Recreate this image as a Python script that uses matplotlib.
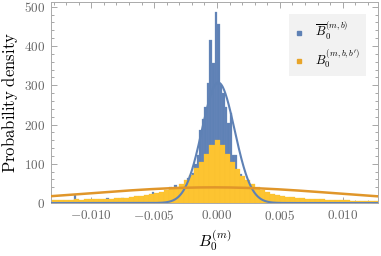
import numpy as np
import matplotlib
matplotlib.use("Agg")
import matplotlib.pyplot as plt
from matplotlib.ticker import MultipleLocator, FuncFormatter
from matplotlib.lines import Line2D

plt.rcParams["mathtext.fontset"] = "cm"
plt.rcParams["font.family"] = ["DejaVu Serif"]

# blue histogram: left edges of bins (width 0.0002) and densities
blue_width = 0.0002
blue_edges = [-0.0114, -0.0088, -0.0076, -0.0052, -0.0038, -0.0034, -0.0030,
              -0.0028, -0.0026, -0.0024, -0.0022, -0.0020, -0.0018, -0.0016,
              -0.0014, -0.0012, -0.0010, -0.0008, -0.0006, -0.0004, -0.0002,
              0.0000, 0.0002, 0.0004, 0.0006, 0.0008, 0.0010, 0.0012, 0.0014,
              0.0016, 0.0018, 0.0020, 0.0022, 0.0024, 0.0026, 0.0028, 0.0030,
              0.0032]
blue_heights = [20, 14, 14, 28, 40, 46, 25,
                33, 45, 64, 70, 77, 100, 122,
                186, 215, 245, 306, 416, 357, 487,
                456, 300, 280, 245, 204, 230, 122, 122,
                71, 75, 54, 40, 30, 20, 12, 36,
                6]

# orange histogram: bin centres -0.0132 .. 0.0128 (width 0.0004)
orange_width = 0.0004
orange_start = -0.0132
orange_heights = [7, 8, 7, 8, 8, 9, 8, 9, 10, 9, 10, 11, 11, 12, 12, 14, 15,
                  17, 18, 20, 23, 26, 29, 32, 36, 41, 49, 58, 72, 88, 105, 125,
                  147, 161, 148, 126, 104, 86, 70, 58, 49, 40, 34, 28, 24, 21,
                  19, 16, 15, 13, 12, 11, 10, 9, 9, 8, 8, 7, 7, 7, 6, 6, 6, 5,
                  5, 5]
orange_centers = orange_start + orange_width * np.arange(len(orange_heights))

# fitted normal curves
blue_mu, blue_sigma = 0.0001, 0.0013
orange_mu, orange_sigma = -0.0003, 0.0100

blue = "#5E81B5"
orange_fill = "#FDC431"
orange_line = "#E0962A"


def normal_pdf(x, mu, sigma):
    return np.exp(-0.5 * ((x - mu) / sigma) ** 2) / (sigma * np.sqrt(2 * np.pi))


fig = plt.figure(figsize=(3.81, 2.56), dpi=100)
ax = fig.add_axes([0.134, 0.207, 0.858, 0.785])

ax.bar(blue_edges, blue_heights, width=blue_width, align="edge",
       color=blue, edgecolor="#6F8EBE", linewidth=0.2, zorder=1)
ax.bar(orange_centers, orange_heights, width=orange_width, align="center",
       color=orange_fill, edgecolor="#F6BE30", linewidth=0.2, zorder=2)

xs = np.linspace(-0.0135, 0.0135, 800)
ax.plot(xs, normal_pdf(xs, blue_mu, blue_sigma), color=blue, lw=1.5, zorder=3)
ax.plot(xs, normal_pdf(xs, orange_mu, orange_sigma), color=orange_line, lw=1.8, zorder=4)

ax.set_xlim(-0.0132, 0.0128)
ax.set_ylim(0, 512)

ax.xaxis.set_major_locator(MultipleLocator(0.005))
ax.xaxis.set_minor_locator(MultipleLocator(0.001))
ax.yaxis.set_major_locator(MultipleLocator(100))
ax.yaxis.set_minor_locator(MultipleLocator(20))
ax.xaxis.set_major_formatter(FuncFormatter(lambda v, p: r"$%.3f$" % v))
ax.yaxis.set_major_formatter(FuncFormatter(lambda v, p: r"$%d$" % v))

ax.tick_params(which="both", direction="in", top=True, right=True,
               color="#999999", labelcolor="#666666", labelsize=9.5, width=0.6)
ax.tick_params(which="major", length=4, pad=4)
ax.tick_params(which="minor", length=2)
for s in ax.spines.values():
    s.set_color("#aaaaaa")
    s.set_linewidth(0.7)

ax.set_ylabel(r"$\mathrm{Probability\ density}$", fontsize=12, color="black", labelpad=3)
ax.set_xlabel(r"$B_0^{(m)}$", fontsize=11.5, color="black", labelpad=4)

handles = [
    Line2D([], [], linestyle="none", marker="s", markersize=3, color=blue),
    Line2D([], [], linestyle="none", marker="s", markersize=3, color="#E8A52A"),
]
labels = [r"$\overline{B}_0^{(m,b)}$", r"$B_0^{(m,b,b^{\prime})}$"]
leg = ax.legend(handles, labels, loc="upper right", bbox_to_anchor=(0.963, 0.94),
                frameon=True, fancybox=False, fontsize=9, handlelength=0.6,
                handletextpad=1.0, labelspacing=0.45, borderpad=0.45,
                borderaxespad=0.0)
leg.get_frame().set_facecolor("#F2F2F2")
leg.get_frame().set_edgecolor("none")
leg.get_frame().set_alpha(1.0)

fig.savefig("out.png", dpi=100)
